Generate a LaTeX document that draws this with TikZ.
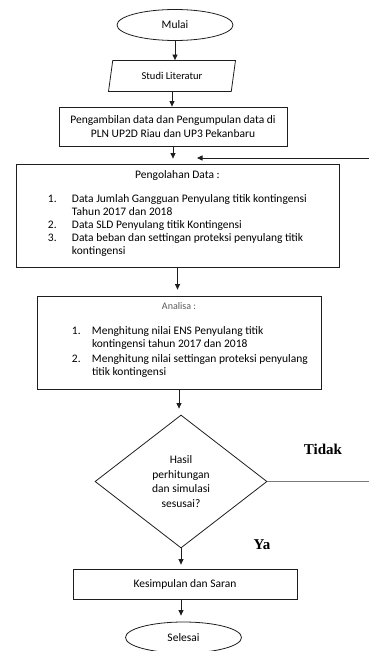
\documentclass[tikz,border=0pt]{standalone}
\usepackage{fontspec}
\setmainfont{Carlito}
\newfontfamily\labelserif{Liberation Serif}
\usetikzlibrary{shapes.geometric,arrows.meta}

\begin{document}
\begin{tikzpicture}[x=1pt,y=-1pt,
  terminal/.style={ellipse, draw=FlowLine, line width=0.8pt, minimum width=116pt, minimum height=31pt, inner sep=0pt, font=\fontsize{11.5}{12.8}\selectfont},
  iobox/.style={trapezium, trapezium left angle=60, trapezium right angle=120, trapezium stretches body, draw=FlowLine, line width=0.8pt, minimum width=127pt, minimum height=31pt, inner sep=0pt, font=\fontsize{10.5}{12}\selectfont},
  process/.style={rectangle, draw=FlowLine, line width=0.8pt, inner sep=0pt, align=center, font=\fontsize{11.5}{13.2}\selectfont},
  decision/.style={diamond, draw=FlowLine, line width=0.8pt, inner sep=0pt, minimum width=172pt, minimum height=133pt, align=center, font=\fontsize{11.5}{14.5}\selectfont},
  answer/.style={font=\labelserif\bfseries\fontsize{15}{18}\selectfont},
  flow/.style={draw=FlowLine, line width=0.8pt, -{Triangle[length=5.5pt,width=5pt]}}]
\definecolor{FlowLine}{HTML}{1E1E1E}
\definecolor{FlowBack}{HTML}{7A7A7A}
\useasboundingbox (0,0) rectangle (369,651);
% shapes, top to bottom
\node[terminal] (mulai) at (175,25) {Mulai};
\node[iobox] (studi) at (172,76) {Studi Literatur};
\node[process, minimum width=228pt, minimum height=39pt, font=\fontsize{11.5}{13.3}\selectfont] (ambil) at (173,126.5) {Pengambilan data dan Pengumpulan data di\\PLN UP2D Riau dan UP3 Pekanbaru};
\node[process] (olah) at (177.5,215.5) {\parbox[c][103pt][t]{323pt}{\vspace*{7pt}\centerline{Pengolahan Data :}\par\vspace{10pt}
  \begin{tabular}[t]{@{\hspace{32pt}}p{24pt}@{}l@{}}
  1. & Data Jumlah Gangguan Penyulang titik kontingensi\\
     & Tahun 2017 dan 2018\\
  2. & Data SLD Penyulang titik Kontingensi\\
  3. & Data beban dan settingan proteksi penyulang titik\\
     & kontingensi
  \end{tabular}}};
\node[process] (analisa) at (179,342.5) {\parbox[c][93pt][t]{284pt}{\vspace*{7pt}\centerline{\fontsize{10}{12}\selectfont\color{black!65}Analisa :}\par\vspace{11pt}
  \begin{tabular}[t]{@{\hspace{35pt}}p{20pt}@{}l@{}}
  1. & Menghitung nilai ENS Penyulang titik\\
     & kontingensi tahun 2017 dan 2018\\[1.5pt]
  2. & Menghitung nilai settingan proteksi penyulang\\
     & titik kontingensi
  \end{tabular}}};
\node[decision] (cek) at (181,481.5) {Hasil\\perhitungan\\dan simulasi\\sesusai?};
\node[process, minimum width=224pt, minimum height=30pt] (simpul) at (185,584) {Kesimpulan dan Saran};
\node[terminal] (selesai) at (183.5,637.5) {Selesai};
\node[answer] (tidak) at (323,449) {Tidak};
\node[answer] (ya) at (262,545) {Ya};
\coordinate (balik) at (369,158);
\coordinate (balikujung) at (197,158);
% connectors
\draw[flow] (mulai.south) -- (mulai.south |- studi.north);
\draw[flow] (studi.south) -- (studi.south |- ambil.north);
\draw[flow, shorten >=5pt] (ambil.south) -- (ambil.south |- olah.north);
\draw[flow] (balik) -- (balikujung);
\draw[flow, shorten >=6pt] (olah.south) -- (olah.south |- analisa.north);
\draw[flow, shorten >=6pt] (analisa.south) -- (analisa.south |- cek.north);
\draw[flow, shorten >=4pt] (cek.south) -- (cek.south |- simpul.north);
\draw[flow, shorten >=6pt] (cek.south |- simpul.south) -- (cek.south |- selesai.north);
\draw[draw=FlowBack, line width=1.1pt] (cek.east) -- (cek.east -| balik);
\end{tikzpicture}
\end{document}
